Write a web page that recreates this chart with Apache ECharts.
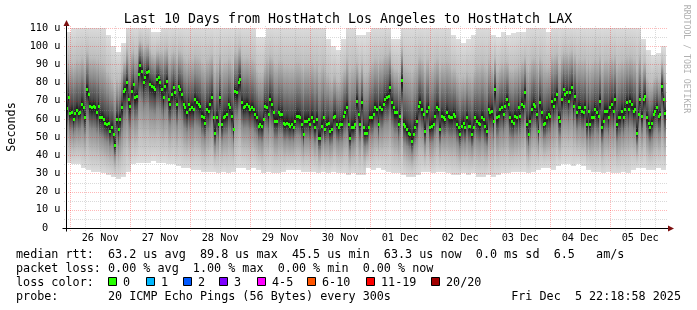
<!DOCTYPE html>
<html><head><meta charset="utf-8">
<script src="https://cdn.jsdelivr.net/npm/echarts@6/dist/echarts.min.js"></script>
<style>html,body{margin:0;padding:0;background:#fff}#c{width:697px;height:310px}</style>
</head><body><div id="c"></div>
<script>
// ---- data (hours counted from Nov 25 00:00 local) ----
const startHour = 22.316;   // Nov 25 22:18:58
const endHour = 262.316;    // Dec 05 22:18:58
const dayLabels = ['26 Nov','27 Nov','28 Nov','29 Nov','30 Nov','01 Dec','02 Dec','03 Dec','04 Dec','05 Dec'];
const dayLabelHours = [36,60,84,108,132,156,180,204,228,252];
const dayLineHours = [24,48,72,96,120,144,168,192,216,240];
const yMajorTicks = [10,20,30,40,50,60,70,80,90,100,110];
const yMinorTicks = [5,15,25,35,45,55,65,75,85,95,105];
const smokeStepHours = 2;        // one smoke column = 2 h
const medianStepHours = 2/3;     // one median sample = 40 min
// lowest ping of each 2 h column (us)
const smokeLow = [36,35,35,33,32,31,31,30,29,28,27,28,31,35,36,36,36,37,36,36,35,35,34,33,33,32,32,31,31,31,
30,31,30,31,33,33,32,33,32,30,31,30,30,31,32,32,32,31,31,31,30,31,30,31,30,30,29,30,29,29,
33,32,33,32,31,30,30,29,28,28,29,31,31,30,31,31,30,29,29,30,29,30,28,28,29,28,29,30,30,31,
31,31,30,31,32,33,33,32,34,35,35,34,35,34,32,31,31,30,31,30,30,31,30,32,33,33,32,32,33,32];
// highest ping of each 2 h column (us, >110 is off the chart)
const smokeHigh = [108,110,112,112,112,112,112,112,106,100,97,102,112,112,112,112,112,108,108,112,
112,112,112,112,112,112,112,112,112,112,112,112,112,112,112,112,112,112,105,105,
112,112,112,112,112,112,112,112,112,112,112,112,104,100,98,104,112,112,106,106,
108,112,112,112,112,104,104,112,112,112,112,112,112,112,112,112,112,106,104,102,
104,106,112,112,112,106,105,108,106,107,108,108,112,112,112,112,108,112,112,112,
112,112,112,112,112,112,112,112,112,112,112,112,112,112,112,104,98,95,96,100];
// median rtt (us)
const medianRtt = [
66,72,63, 63.6,59.9,63, 65,63,64, 68.2,66.3,61.2, 76.4,73.7,67.2, 66.3,67.2,66.3, 63.6,67.2,60.8, 60.8,59.9,58, 57.1,58,53.4, 55.3,51.6,45.5,
59.9,54.3,59.9, 66.3,75.5,76.4, 80.1,70.9,67.2, 75.5,79.2,71.8, 72.8,84.7,89.8, 86.6,80.1,82.9, 85.7,86.6,79.2, 78.3,77.4,76.4, 82,82.9,80.1, 76.4,71.8,78.3,
81,70.9,68.2, 73.7,77.4,74.6, 68.2,78.3,76.4, 73.7,68.2,66.3, 63.6,68.2,65.4, 66.3,65.4,70.9, 69.1,68.2,67.2, 61.7,60.8,58, 65.4,64.5,68.2, 71.8,60.8,52.5,
60.8,57.1,71.8, 57.1,60.8,61.7, 62.6,68.2,66.3, 61.7,54.3,75.5, 74.6,80.1,82, 69.1,66.3,67.2, 68.2,67.2,65.4, 66.3,65.4,62.6, 60.8,56.2,57.1, 56.2,59.9,67.2,
66.3,62.6,70.9, 68.2,63.6,59, 59,63.6,62.6, 62.6,58,57.1, 58,57.1,56.2, 57.1,55.3,59, 61.7,61.7,60.8, 57.1,51.6,59, 59,59.9,57.1, 60.8,59,55.3,
59.9,49.7,49.7, 56.2,60.8,54.3, 57.1,58,53.4, 54.3,60.8,61.7, 57.1,55.3,57.1, 57.1,61.7,63.6, 66.3,57.1,49.7, 55.3,55.3,57.1, 70,62.6,57.1, 69.1,55.3,52.5,
52.5,55.3,60.8, 60.8,62.6,66.3, 65.4,57.1,66.3, 65.4,68.2,70.9, 71.8,72.8,77.4, 69.1,66.3,63.6, 63.6,57.1,61.7, 81.4,57.1,56.2, 54.3,52.5,51.6, 47.9,51.6,55.3,
59,67.2,69.1, 65.4,62.6,53.4, 64.5,66.3,55.3, 56.2,57.1,61.7, 66.3,65.4,54.3, 61.7,60.8,59.9, 63.6,61.7,60.8, 60.8,62.6,61.7, 57.1,55.3,51.6, 56.2,58,55.3,
60.8,56.2,56.2, 51.6,55.3,60.8, 59,58,57.1, 60.8,59.9,56.2, 53.4,65.4,63.6, 64.5,59,76.4, 60.8,61.7,65.4, 66.3,62.6,67.2, 70.9,68.2,60.8, 59,58,61.7,
60.8,66.3,61.7, 68.2,67.2,74.6, 57.1,51.6,59, 65.4,68.2,67.2, 62.6,53.4,69.1, 63.6,57.1,58, 60.8,62.6,61.7, 70,67.2,70.9, 73.7,60.8,59, 70.9,76.4,73.7,
74.6,70,74.6, 77.4,67.2,72.8, 63.6,66.3,66.3, 64.5,63.6,66.3, 57.1,64.5,57.1, 60.8,60.8,65.4, 63.6,61.7,70, 55.3,59,64.5, 64.5,60.8,66.3, 68.2,64.5,70.9,
57.1,60.8,60.8, 64.5,60.8,65.4, 69.1,65.4,70, 68.2,64.5,65.4, 52.5,62.6,70.9, 61.7,70.9,72.8, 60.8,58,55.3, 58,62.6,64.5, 66.3,61.7,62.6, 78.3,70.9,63.3];
// texts
const titleText = 'Last 10 Days from HostHatch Los Angeles to HostHatch LAX';
const legendRtt = 'median rtt:  63.2 us avg  89.8 us max  45.5 us min  63.3 us now  0.0 ms sd  6.5   am/s';
const legendLoss = 'packet loss: 0.00 % avg  1.00 % max  0.00 % min  0.00 % now';
const legendColorTitle = 'loss color:';
const lossLabels = ['0','1','2','3','4-5','6-10','11-19','20/20'];
const lossColors = ['#26ff00','#00b8ff','#0059ff','#7e00ff','#ff00ff','#ff5500','#ff0000','#a10000'];
const probeText = 'probe:       20 ICMP Echo Pings (56 Bytes) every 300s';
const dateText = 'Fri Dec  5 22:18:58 2025';
const watermark = 'RRDTOOL / TOBI OETIKER';

// ---- layout / style ----
const MONO = '"DejaVu Sans Mono", monospace';
const lossBoxX = [108,146,183,219,257,307,366,431];
const legendRowY = [254.8, 268.7, 282.6, 296.5];

const smokeData = medianRtt.map((m, j) => {
  const k = Math.floor(j / 3);
  return [startHour + j * medianStepHours, m, smokeLow[k], smokeHigh[k]];
});
const minorHours = [];
for (let h = 6; h < endHour; h += 6) { if (h > startHour && h % 24 !== 0) minorHours.push(h); }

function smokeItem(params, api) {
  const t = api.value(0), m = api.value(1), lo = api.value(2), hi = api.value(3);
  const x0 = Math.round(api.coord([t, 0])[0]);
  const x1 = Math.round(api.coord([t + medianStepHours, 0])[0]);
  const yLo = api.coord([t, lo])[1];
  const yHi = api.coord([t, hi])[1];
  const yTop = api.coord([t, Math.min(hi, 110)])[1];
  const f = v => Math.max(0, Math.min(1, (hi - v) / (hi - lo)));
  const up = hi - m, dn = m - lo;
  const stops = [
    {offset: 0, color: '#dedede'},
    {offset: f(m + 0.6 * up), color: '#bdbdbd'},
    {offset: f(m + 0.35 * up), color: '#8a8a8a'},
    {offset: f(m + 0.1 * up), color: '#4a4a4a'},
    {offset: f(m + 0.03 * up), color: '#262626'},
    {offset: f(m), color: '#1a1a1a'},
    {offset: f(m - 0.06 * dn), color: '#262626'},
    {offset: f(m - 0.14 * dn), color: '#4a4a4a'},
    {offset: f(m - 0.36 * dn), color: '#8c8c8c'},
    {offset: f(m - 0.7 * dn), color: '#bdbdbd'},
    {offset: 1, color: '#dcdcdc'}
  ];
  const yt = Math.round(yTop), yb = Math.round(yLo);
  return {
    type: 'rect',
    shape: {x: x0, y: yt, width: x1 - x0, height: yb - yt},
    style: {fill: new echarts.graphic.LinearGradient(0, yHi, 0, yLo, stops, true)}
  };
}

function medianItem(params, api) {
  const p = api.coord([api.value(0), api.value(1)]);
  return {
    type: 'rect',
    shape: {x: Math.round(p[0]), y: Math.round(p[1]) - 1, width: 2, height: 3},
    style: {fill: lossColors[0]}
  };
}

function gridItem(params, api) {
  const children = [];
  const xl = api.coord([startHour, 0])[0], xr = api.coord([endHour, 0])[0];
  const yb = api.coord([startHour, 0])[1], yt = api.coord([startHour, 110])[1];
  const vline = (h, color) => {
    const x = Math.round(api.coord([h, 0])[0]) + 0.5;
    children.push({type: 'line', shape: {x1: x, y1: yb + 3, x2: x, y2: yt - 2},
      style: {stroke: color, lineWidth: 1, lineDash: [1, 1]}});
  };
  const hline = (v, color) => {
    const y = Math.round(api.coord([startHour, v])[1]) + 0.5;
    children.push({type: 'line', shape: {x1: xl - 2, y1: y, x2: xr + 2, y2: y},
      style: {stroke: color, lineWidth: 1, lineDash: [1, 1]}});
  };
  minorHours.forEach(h => vline(h, 'rgba(150,150,150,0.35)'));
  yMinorTicks.forEach(v => hline(v, 'rgba(150,150,150,0.35)'));
  dayLineHours.forEach(h => vline(h, 'rgba(255,0,0,0.28)'));
  yMajorTicks.forEach(v => hline(v, 'rgba(255,0,0,0.28)'));
  return {type: 'group', children};
}

function frameItem(params, api) {
  const o = api.coord([startHour, 0]);
  const xr = api.coord([endHour, 0])[0];
  const yt = api.coord([startHour, 110])[1];
  const ox = Math.round(o[0]) + 0.5, oy = Math.round(o[1]) + 0.5;
  const arrow = '#7d1010';
  return {type: 'group', children: [
    {type: 'line', shape: {x1: ox - 4, y1: oy, x2: xr + 3, y2: oy}, style: {stroke: '#000', lineWidth: 1}},
    {type: 'line', shape: {x1: ox, y1: oy + 3, x2: ox, y2: yt - 3}, style: {stroke: '#000', lineWidth: 1}},
    {type: 'polygon', shape: {points: [[xr + 2, oy - 3], [xr + 8, oy], [xr + 2, oy + 3]]}, style: {fill: arrow}},
    {type: 'polygon', shape: {points: [[ox - 3, yt - 2], [ox, yt - 8], [ox + 3, yt - 2]]}, style: {fill: arrow}}
  ]};
}

const graphics = [
  {type: 'text', x: 348, y: 20, style: {text: titleText, font: '13.3px ' + MONO, fill: '#000', align: 'center', verticalAlign: 'middle'}},
  {type: 'text', x: 11.5, y: 127, rotation: Math.PI / 2, style: {text: 'Seconds', font: '11.75px ' + MONO, fill: '#000', align: 'center', verticalAlign: 'middle'}},
  {type: 'text', x: 686.5, y: 59, rotation: -Math.PI / 2, style: {text: watermark, font: '8.2px ' + MONO, fill: '#b0b0b0', align: 'center', verticalAlign: 'middle'}},
  {type: 'text', x: 16, y: legendRowY[0], style: {text: legendRtt, font: '11.75px ' + MONO, fill: '#000', verticalAlign: 'middle'}},
  {type: 'text', x: 16, y: legendRowY[1], style: {text: legendLoss, font: '11.75px ' + MONO, fill: '#000', verticalAlign: 'middle'}},
  {type: 'text', x: 16, y: legendRowY[2], style: {text: legendColorTitle, font: '11.75px ' + MONO, fill: '#000', verticalAlign: 'middle'}},
  {type: 'text', x: 16, y: legendRowY[3], style: {text: probeText, font: '11.75px ' + MONO, fill: '#000', verticalAlign: 'middle'}},
  {type: 'text', x: 681, y: legendRowY[3], style: {text: dateText, font: '11.75px ' + MONO, fill: '#000', align: 'right', verticalAlign: 'middle'}}
];
lossLabels.forEach((lab, i) => {
  graphics.push({type: 'rect', shape: {x: lossBoxX[i] + 0.5, y: 277.5, width: 8, height: 8},
    style: {fill: lossColors[i], stroke: '#000', lineWidth: 1}});
  graphics.push({type: 'text', x: lossBoxX[i] + 15, y: legendRowY[2],
    style: {text: lab, font: '11.75px ' + MONO, fill: '#000', verticalAlign: 'middle'}});
});

const chart = echarts.init(document.getElementById('c'), null, {renderer: 'canvas', width: 697, height: 310});
chart.setOption({
  animation: false,
  backgroundColor: '#fff',
  grid: {left: 66, top: 28, width: 600, height: 200, containLabel: false},
  xAxis: {
    type: 'value', min: startHour, max: endHour,
    axisLine: {show: false}, axisTick: {show: false}, splitLine: {show: false},
    axisLabel: {customValues: dayLabelHours, margin: 5, color: '#000', fontFamily: 'DejaVu Sans Mono', fontSize: 10.25,
      formatter: v => dayLabels[Math.round((v - dayLabelHours[0]) / 24)]}
  },
  yAxis: {
    type: 'value', min: 0, max: 110, interval: 10,
    axisLine: {show: false}, axisTick: {show: false}, splitLine: {show: false},
    axisLabel: {margin: 5.5, color: '#000', fontFamily: 'DejaVu Sans Mono', fontSize: 10.25,
      formatter: v => v === 0 ? '0  ' : v + ' u'}
  },
  graphic: graphics,
  series: [
    {type: 'custom', name: 'smoke', renderItem: smokeItem, data: smokeData, encode: {x: 0, y: 1}, z: 1, silent: true},
    {type: 'custom', name: 'grid', renderItem: gridItem, data: [[startHour, 0]], encode: {x: 0, y: 1}, z: 3, silent: true},
    {type: 'custom', name: 'median', renderItem: medianItem, data: smokeData, encode: {x: 0, y: 1}, z: 4, silent: true},
    {type: 'custom', name: 'frame', renderItem: frameItem, data: [[startHour, 0]], encode: {x: 0, y: 1}, z: 5, silent: true}
  ]
});
</script></body></html>
